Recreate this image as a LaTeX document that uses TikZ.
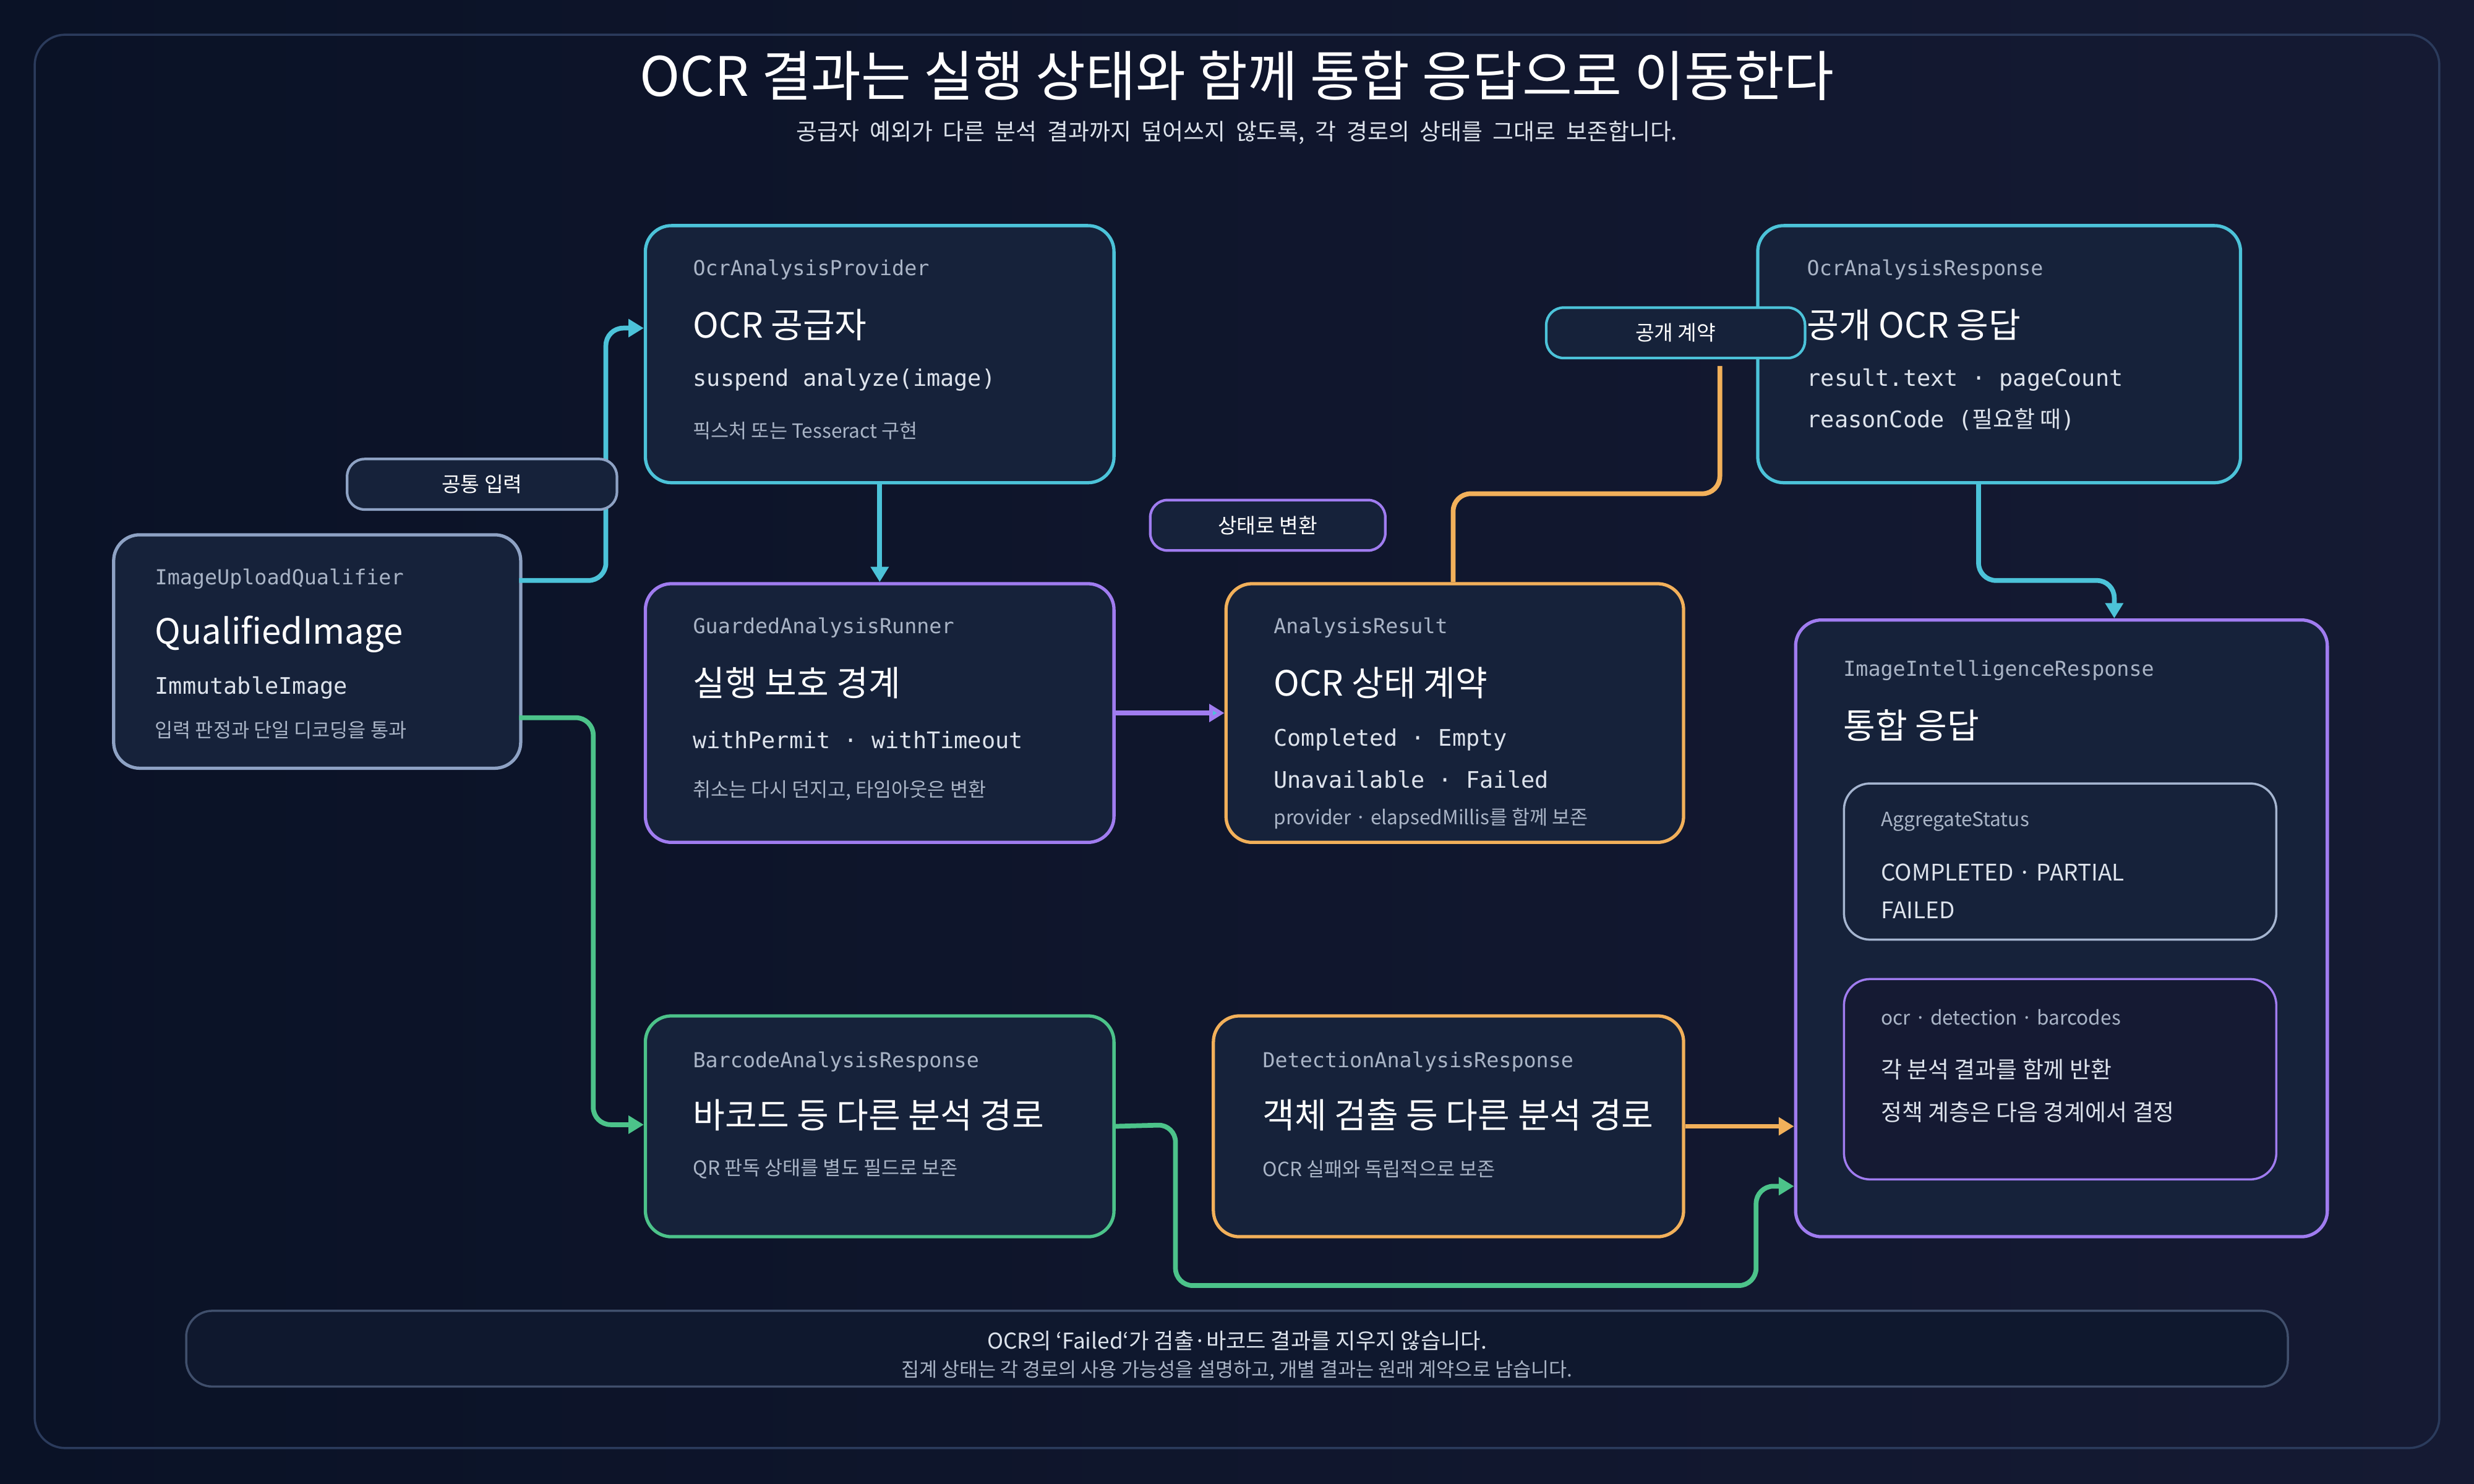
\documentclass[tikz,border=0pt]{standalone}
\usepackage{fontspec}
\setmainfont{Noto Sans CJK KR}
\setmonofont{DejaVu Sans Mono}
\newfontfamily\cjk{Noto Sans CJK KR}
\usetikzlibrary{arrows.meta}
\definecolor{BGA}{HTML}{0A1226}
\definecolor{BGB}{HTML}{151A33}
\definecolor{FRAME}{HTML}{2B3B5C}
\definecolor{BOXFILL}{HTML}{16223A}
\definecolor{CYAN}{HTML}{4CC3D9}
\definecolor{PURPLE}{HTML}{A07CF0}
\definecolor{ORANGE}{HTML}{F2B05A}
\definecolor{GREEN}{HTML}{4CC38A}
\definecolor{SLATE}{HTML}{8EA2C4}
\definecolor{GREYTXT}{HTML}{A9B4C6}
\definecolor{LIGHTTXT}{HTML}{DDE3EC}
\newdimen\pxu \pxu=0.02551cm
\tikzset{
  box/.style={draw=#1, line width=1.5pt, fill=BOXFILL, rounded corners=12pt, anchor=north west, inner sep=0pt},
  tag/.style={draw=#1, line width=1.2pt, fill=BOXFILL, rounded corners=8pt, text=white, font=\fontsize{9.5}{11}\selectfont, inner sep=0pt},
  cls/.style={anchor=west, inner sep=0pt, text=GREYTXT, font=\ttfamily\fontsize{9.5}{11}\selectfont},
  head/.style={anchor=west, inner sep=0pt, text=white, font=\fontsize{16}{19}\selectfont},
  code/.style={anchor=west, inner sep=0pt, text=LIGHTTXT, font=\ttfamily\fontsize{10.5}{12}\selectfont},
  note/.style={anchor=west, inner sep=0pt, text=GREYTXT, font=\fontsize{9}{11}\selectfont},
  plain/.style={anchor=west, inner sep=0pt, text=LIGHTTXT, font=\fontsize{10.5}{12}\selectfont},
  flow/.style={draw=#1, line width=2.2pt, rounded corners=8pt},
  tip/.style={-{Triangle[length=7pt,width=8pt]}}
}
\begin{document}
\begin{tikzpicture}[x=0.02551cm, y=-0.02551cm]
    \useasboundingbox (0,0) rectangle (1568,940.8);
    \shade[left color=BGA, right color=BGB] (0,0) rectangle (1568,940.8);
    \draw[FRAME, line width=1pt, rounded corners=14pt] (22,22) rectangle (1546,918);
    %
    \node[text=white, font=\fontsize{25}{29}\selectfont] (title) at (784,48) {OCR 결과는 실행 상태와 함께 통합 응답으로 이동한다};
    \node[text=LIGHTTXT, font=\fontsize{10.5}{12}\selectfont] (subtitle) at (784,84) {공급자\ \ 예외가\ \ 다른\ \ 분석\ \ 결과까지\ \ 덮어쓰지\ \ 않도록,\ \ 각\ \ 경로의\ \ 상태를\ \ 그대로\ \ 보존합니다.};
    %
    \node[box=SLATE, minimum width=258\pxu, minimum height=148\pxu] (Q) at (71,338) {};
    \node[cls] at (98,367) {ImageUploadQualifier};
    \node[head] at (98,402) {QualifiedImage};
    \node[code] at (98,436) {ImmutableImage};
    \node[note] at (98,463) {입력 판정과 단일 디코딩을 통과};
    %
    \node[box=CYAN, minimum width=297\pxu, minimum height=163\pxu] (P) at (408,142) {};
    \node[cls] at (439,171) {OcrAnalysisProvider};
    \node[head] at (439,206) {OCR 공급자};
    \node[code] at (439,241) {suspend analyze(image)};
    \node[note] at (439,273) {픽스처 또는 Tesseract 구현};
    %
    \node[box=PURPLE, minimum width=297\pxu, minimum height=164\pxu] (G) at (408,369) {};
    \node[cls] at (439,398) {GuardedAnalysisRunner};
    \node[head] at (439,433) {실행 보호 경계};
    \node[code] at (439,469) {withPermit · withTimeout};
    \node[note] at (439,501) {취소는 다시 던지고, 타임아웃은 변환};
    %
    \node[box=ORANGE, minimum width=290\pxu, minimum height=164\pxu] (A) at (776,369) {};
    \node[cls] at (807,398) {AnalysisResult};
    \node[head] at (807,433) {OCR 상태 계약};
    \node[code] at (807,469) {Completed · Empty};
    \node[code] at (807,494) {Unavailable · Failed};
    \node[note] at (807,519) {provider · elapsedMillis를 함께 보존};
    %
    \node[box=CYAN, minimum width=306\pxu, minimum height=163\pxu] (R) at (1113,142) {};
    \node[cls] at (1145,171) {OcrAnalysisResponse};
    \node[head] at (1145,206) {공개 OCR 응답};
    \node[code] at (1145,241) {result.text · pageCount};
    \node[code] at (1145,266) {reasonCode ({\cjk 필요할 때})};
    %
    \node[box=GREEN, minimum width=297\pxu, minimum height=140\pxu] (B) at (408,643) {};
    \node[cls] at (439,673) {BarcodeAnalysisResponse};
    \node[head] at (439,707) {바코드 등 다른 분석 경로};
    \node[note] at (439,741) {QR 판독 상태를 별도 필드로 보존};
    %
    \node[box=ORANGE, minimum width=298\pxu, minimum height=140\pxu] (E) at (768,643) {};
    \node[cls] at (800,673) {DetectionAnalysisResponse};
    \node[head] at (800,707) {객체 검출 등 다른 분석 경로};
    \node[note] at (800,741) {OCR 실패와 독립적으로 보존};
    %
    \node[box=PURPLE, minimum width=337\pxu, minimum height=391\pxu] (I) at (1137,392) {};
    \node[cls] at (1168,425) {ImageIntelligenceResponse};
    \node[head] at (1168,460) {통합 응답};
    \node[box=SLATE!80, line width=1pt, minimum width=274\pxu, minimum height=99\pxu] (S) at (1168,496) {};
    \node[note] at (1192,521) {AggregateStatus};
    \node[plain] at (1192,553) {COMPLETED · PARTIAL};
    \node[plain] at (1192,577) {FAILED};
    \node[box=PURPLE, line width=1pt, fill=BGB, minimum width=274\pxu, minimum height=127\pxu] (D) at (1168,620) {};
    \node[note] at (1192,645) {ocr · detection · barcodes};
    \node[plain] at (1192,678) {각 분석 결과를 함께 반환};
    \node[plain] at (1192,705) {정책 계층은 다음 경계에서 결정};
    %
    \coordinate (qa) at (329,368);
    \coordinate (qb) at (329,455);
    \coordinate (ra) at (1254,305);
    \coordinate (at) at (921,369);
    \coordinate (bi) at (1137,752);
    \draw[flow=CYAN, tip] (qa) -- (384,368) -- (384,208) -- (P.west |- 0,208);
    \draw[flow=GREEN, tip] (qb) -- (376,455) -- (376,713) -- (B.west |- 0,713);
    \draw[flow=CYAN, tip] (P.south) -- (G.north);
    \draw[flow=PURPLE, -{Triangle[length=7pt,width=8pt,fill=CYAN]}] (G.east) -- (A.west);
    \draw[flow=CYAN, tip] (ra) -- (1254,368) -- (1340,368) -- (I.north -| 1340,0);
    \draw[flow=ORANGE, tip] (E.east) -- (E.east -| I.west);
    \draw[flow=GREEN, tip] (B.east) -- (745,713) -- (745,815) -- (1113,815) -- (1113,752) -- (bi);
    %
    \node[tag=SLATE, minimum width=171\pxu, minimum height=32\pxu] (lin) at (305.5,307) {공통 입력};
    \node[tag=PURPLE, minimum width=149\pxu, minimum height=32\pxu] (lconv) at (803.5,333) {상태로 변환};
    \draw[flow=ORANGE] (at) -- (921,313) -- (1090,313) -- (1090,232);
    \node[tag=CYAN, minimum width=164\pxu, minimum height=32\pxu] (lpub) at (1062,211) {공개 계약};
    %
    \node[draw=FRAME!90!white, line width=1pt, fill=BGA!60!BOXFILL, rounded corners=12pt, minimum width=1332\pxu, minimum height=48\pxu] (foot) at (784,855) {};
    \node[text=LIGHTTXT, font=\fontsize{10}{12}\selectfont] at (784,850) {OCR의 \char96Failed\char96가 검출·바코드 결과를 지우지 않습니다.};
    \node[text=GREYTXT, font=\fontsize{9}{11}\selectfont] at (784,869) {집계 상태는 각 경로의 사용 가능성을 설명하고, 개별 결과는 원래 계약으로 남습니다.};
\end{tikzpicture}
\end{document}
